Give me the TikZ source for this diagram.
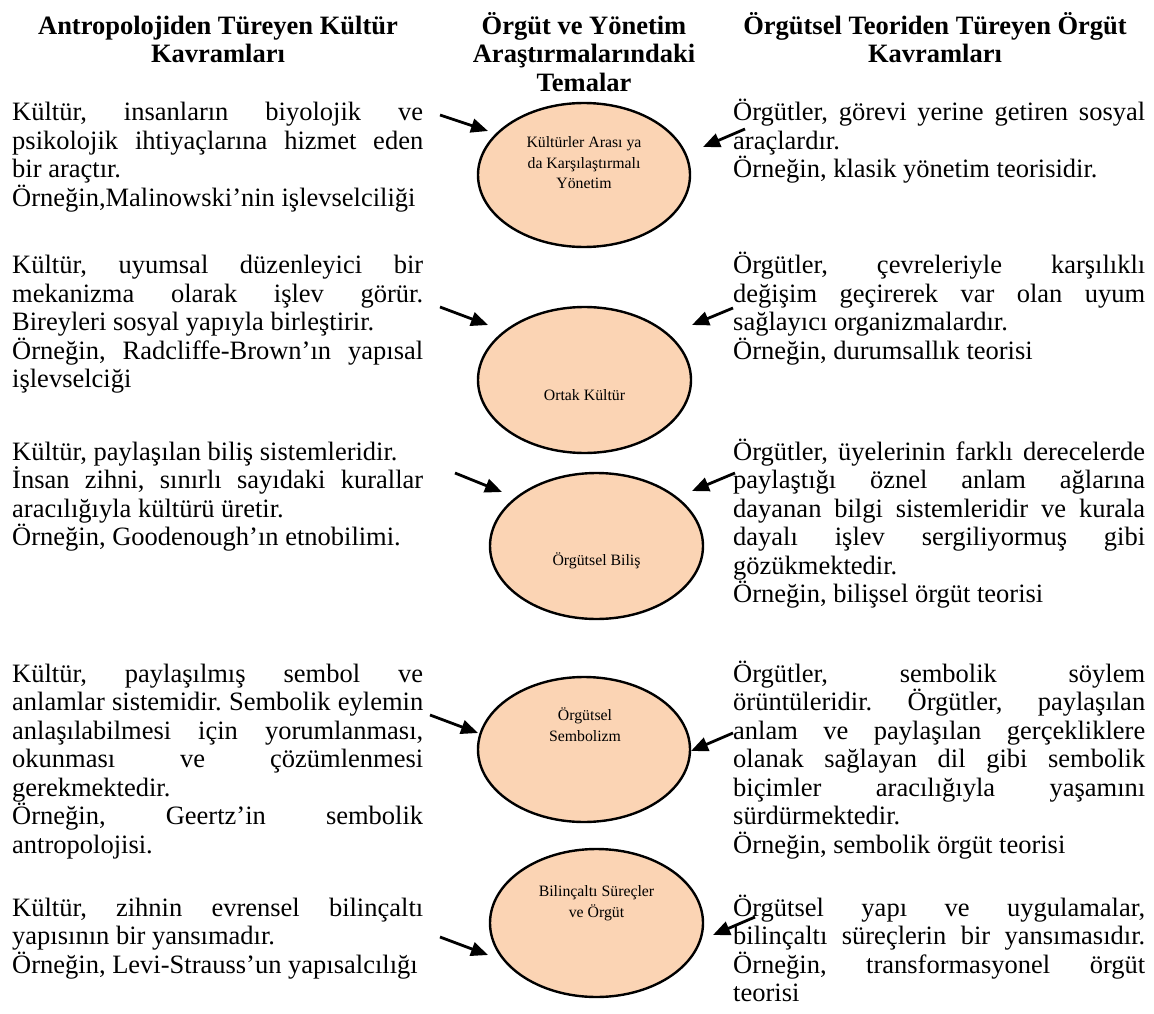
\documentclass[tikz,border=0pt]{standalone}
\usepackage{fontspec}
\setmainfont{Liberation Serif}
\usetikzlibrary{arrows.meta,shapes.geometric}

\definecolor{peach}{HTML}{FBD4B4}

% font sizes (1pt = 1 unit of the drawing)
\newcommand\bodyfont{\fontsize{26.5}{28.5}\selectfont}
\newcommand\headfont{\fontsize{26.5}{28.5}\selectfont\bfseries}
\newcommand\smallfont{\fontsize{15.8}{21}\selectfont}

% one justified line, one line at natural width, one centred line
\newcommand\J[1]{\hbox to\hsize{#1}}
\newcommand\N[1]{\hbox{#1}}
\newcommand\C[1]{\hbox to\hsize{\hfil#1\hfil}}
% a column of lines whose baseline is that of its first line
\newcommand\colblock[2]{\vtop{\hsize=#1pt\parindent=0pt\frenchspacing #2}}

\begin{document}
\begin{tikzpicture}[x=1pt,y=-1pt,
  txt/.style={anchor=base west,inner sep=0pt,font=\bodyfont},
  head/.style={anchor=base,inner sep=0pt,font=\headfont},
  theme/.style={ellipse,draw=black,line width=2.4pt,fill=peach,inner sep=0pt},
  lbl/.style={anchor=base,inner sep=0pt,font=\smallfont},
  arr/.style={line width=2.8pt,-{Triangle[length=17pt,width=14pt]}}]

\useasboundingbox (0,0) rectangle (1154,1014);
\fill[white] (0,0) rectangle (1154,1014);

% column headings
\node[head] (h1) at (218,34.5) {\colblock{440}{\headfont
  \C{Antropolojiden Türeyen Kültür}\C{Kavramları}}};
\node[head] (h2) at (584,34.5) {\colblock{300}{\headfont
  \C{Örgüt ve Yönetim}\C{Araştırmalarındaki}\C{Temalar}}};
\node[head] (h3) at (935,34.5) {\colblock{440}{\headfont
  \C{Örgütsel Teoriden Türeyen Örgüt}\C{Kavramları}}};

% left column: concepts of culture from anthropology
\node[txt] (l1) at (12,121) {\colblock{411}{\bodyfont
  \J{Kültür, insanların biyolojik ve}
  \J{psikolojik ihtiyaçlarına hizmet eden}
  \N{bir araçtır.}
  \N{Örneğin,Malinowski’nin işlevselciliği}}};
\node[txt] (l2) at (12,273.5) {\colblock{411}{\bodyfont
  \J{Kültür, uyumsal düzenleyici bir}
  \J{mekanizma olarak işlev görür.}
  \N{Bireyleri sosyal yapıyla birleştirir.}
  \J{Örneğin, Radcliffe-Brown’ın yapısal}
  \N{işlevselciği}}};
\node[txt] (l3) at (12,460) {\colblock{411}{\bodyfont
  \N{Kültür, paylaşılan biliş sistemleridir.}
  \J{İnsan zihni, sınırlı sayıdaki kurallar}
  \N{aracılığıyla kültürü üretir.}
  \N{Örneğin, Goodenough’ın etnobilimi.}}};
\node[txt] (l4) at (12,682) {\colblock{411}{\bodyfont
  \J{Kültür, paylaşılmış sembol ve}
  \J{anlamlar sistemidir. Sembolik eylemin}
  \J{anlaşılabilmesi için yorumlanması,}
  \J{okunması ve çözümlenmesi}
  \N{gerekmektedir.}
  \J{Örneğin, Geertz’in sembolik}
  \N{antropolojisi.}}};
\node[txt] (l5) at (12,916) {\colblock{411}{\bodyfont
  \J{Kültür, zihnin evrensel bilinçaltı}
  \N{yapısının bir yansımadır.}
  \N{Örneğin, Levi-Strauss’un yapısalcılığı}}};

% right column: concepts of organisation from organisation theory
\node[txt] (r1) at (733,121) {\colblock{412}{\bodyfont
  \J{Örgütler, görevi yerine getiren sosyal}
  \N{araçlardır.}
  \N{Örneğin, klasik yönetim teorisidir.}}};
\node[txt] (r2) at (733,273.5) {\colblock{412}{\bodyfont
  \J{Örgütler, çevreleriyle karşılıklı}
  \J{değişim geçirerek var olan uyum}
  \N{sağlayıcı organizmalardır.}
  \N{Örneğin, durumsallık teorisi}}};
\node[txt] (r3) at (733,460) {\colblock{412}{\bodyfont
  \J{Örgütler, üyelerinin farklı derecelerde}
  \J{paylaştığı öznel anlam ağlarına}
  \J{dayanan bilgi sistemleridir ve kurala}
  \J{dayalı işlev sergiliyormuş gibi}
  \N{gözükmektedir.}
  \N{Örneğin, bilişsel örgüt teorisi}}};
\node[txt] (r4) at (733,682) {\colblock{412}{\bodyfont
  \J{Örgütler, sembolik söylem}
  \J{örüntüleridir. Örgütler, paylaşılan}
  \J{anlam ve paylaşılan gerçekliklere}
  \J{olanak sağlayan dil gibi sembolik}
  \J{biçimler aracılığıyla yaşamını}
  \N{sürdürmektedir.}
  \N{Örneğin, sembolik örgüt teorisi}}};
\node[txt] (r5) at (733,916) {\colblock{412}{\bodyfont
  \J{Örgütsel yapı ve uygulamalar,}
  \J{bilinçaltı süreçlerin bir yansımasıdır.}
  \J{Örneğin, transformasyonel örgüt}
  \N{teorisi}}};

% middle column: themes
\node[theme,minimum width=212pt,minimum height=144pt] (e1) at (584,175) {};
\node[theme,minimum width=213pt,minimum height=146pt] (e2) at (584.5,380) {};
\node[theme,minimum width=213pt,minimum height=146pt] (e3) at (596.5,546) {};
\node[theme,minimum width=212pt,minimum height=145pt] (e4) at (584,749.5) {};
\node[theme,minimum width=213pt,minimum height=148pt] (e5) at (596.5,923) {};

\node[lbl] (t1) at (584,147) {\colblock{200}{\smallfont
  \C{Kültürler Arası ya}\C{da Karşılaştırmalı}\C{Yönetim}}};
\node[lbl] (t2) at (584.5,400) {Ortak Kültür};
\node[lbl] (t3) at (596.5,565) {Örgütsel Biliş};
\node[lbl] (t4) at (585,720.5) {\colblock{200}{\smallfont
  \C{Örgütsel}\C{Sembolizm}}};
\node[lbl] (t5) at (596.5,896) {\colblock{200}{\smallfont
  \C{Bilinçaltı Süreçler}\C{ve Örgüt}}};

% arrow ends
\coordinate (la1) at (440,115);  \coordinate (lb1) at (488,131);
\coordinate (ra1) at (745,129);  \coordinate (rb1) at (703,147);
\coordinate (la2) at (440,307);  \coordinate (lb2) at (488,325);
\coordinate (ra2) at (733,308);  \coordinate (rb2) at (692,325);
\coordinate (la3) at (455,473);  \coordinate (lb3) at (502,492);
\coordinate (ra3) at (735,473);  \coordinate (rb3) at (692,491);
\coordinate (la4) at (430,715);  \coordinate (lb4) at (478,733);
\coordinate (ra4) at (733,733);  \coordinate (rb4) at (691,751);
\coordinate (la5) at (440,937);  \coordinate (lb5) at (488,955);
\coordinate (ra5) at (755,917);  \coordinate (rb5) at (713,935);

\foreach \i in {1,...,5}{
  \draw[arr] (la\i) -- (lb\i);
  \draw[arr] (ra\i) -- (rb\i);
}
\end{tikzpicture}
\end{document}
